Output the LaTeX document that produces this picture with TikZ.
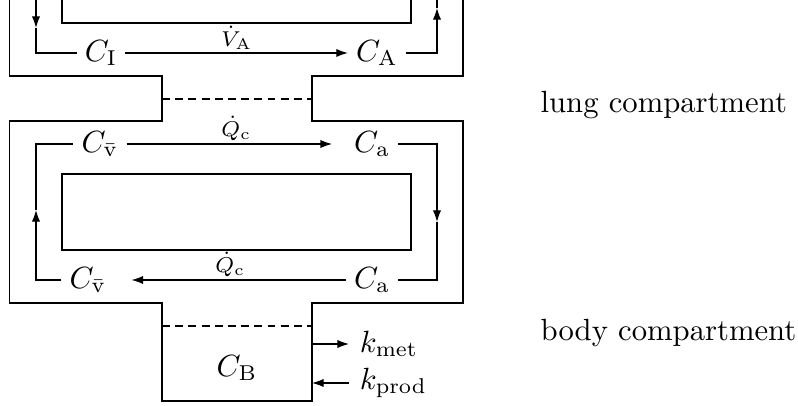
\documentclass[tikz,border=0pt]{standalone}
\usetikzlibrary{arrows.meta}
\begin{document}
\begin{tikzpicture}[
  x=0.326pt, y=-0.326pt,
  >={Latex[length=3.8pt,width=2.7pt]},
  conc/.style={inner sep=2.5pt},
  rate/.style={font=\scriptsize, inner sep=1pt},
  side/.style={anchor=base west, inner sep=0pt},
  membrane/.style={dash pattern=on 2.6pt off 1.7pt}
]
\useasboundingbox (0,0) rectangle (798,406);

% compartment walls
\draw (9.5,0) -- (9.5,76) -- (162,76) -- (162,121) -- (9.5,121) -- (9.5,303)
  -- (162,303) -- (162,401) -- (312,401) -- (312,303) -- (463,303) -- (463,121)
  -- (312,121) -- (312,76) -- (463,76) -- (463,0);
\draw (62,0) -- (62,23) -- (411,23) -- (411,0);
\draw (62,174) rectangle (411,250);
\draw[membrane] (162,99) -- (312,99);
\draw[membrane] (162,326) -- (312,326);

% concentrations
\node[conc] (CI) at (101,53) {$C_{\mathrm{I}}$};
\node[conc] (CA) at (377,53) {$C_{\mathrm{A}}$};
\node[conc] (Cv1) at (100,144) {$C_{\bar{\mathrm{v}}}$};
\node[conc] (Ca1) at (372,144) {$C_{\mathrm{a}}$};
\node[conc] (Ca2) at (372,280) {$C_{\mathrm{a}}$};
\node[conc] (Cv2) at (88,280) {$C_{\bar{\mathrm{v}}}$};
\node (CB) at (237,368) {$C_{\mathrm{B}}$};
\node[anchor=west] (kmet) at (349,344) {$k_{\mathrm{met}}$};
\node[anchor=west] (kprod) at (349,383) {$k_{\mathrm{prod}}$};

\node[side] (lung) at (540,113) {lung compartment};
\node[side] (body) at (540,341) {body compartment};

% ventilation
\coordinate (lin) at (36,0);
\coordinate (lmid) at (36,28);
\coordinate (rmid) at (437,8);
\coordinate (rout) at (437,0);
\draw[->] (lin) -- (lmid);
\draw (lmid) |- (CI);
\draw[->] (CI) -- node[rate, above] {$\dot{V}_{\mathrm{A}}$} (CA);
\draw[->] (CA) -| (rmid);
\draw (rmid) -- (rout);

% circulation
\coordinate (rflow) at (437,222);
\coordinate (lflow) at (36,210);
\draw[->, shorten >=4.5pt] (Cv1) -- node[rate, above] {$\dot{Q}_{\mathrm{c}}$} (Ca1);
\draw[->] (Ca1) -| (rflow);
\draw (rflow) |- (Ca2);
\draw[->, shorten >=5.5pt] (Ca2) -- node[rate, above] {$\dot{Q}_{\mathrm{c}}$} (Cv2);
\draw[->] (Cv2) -| (lflow);
\draw (lflow) |- (Cv1);

% metabolism
\coordinate (metout) at (312,344);
\coordinate (prodin) at (312,383);
\draw[->] (metout) -- (kmet);
\draw[->] (kprod) -- (prodin);
\end{tikzpicture}
\end{document}
